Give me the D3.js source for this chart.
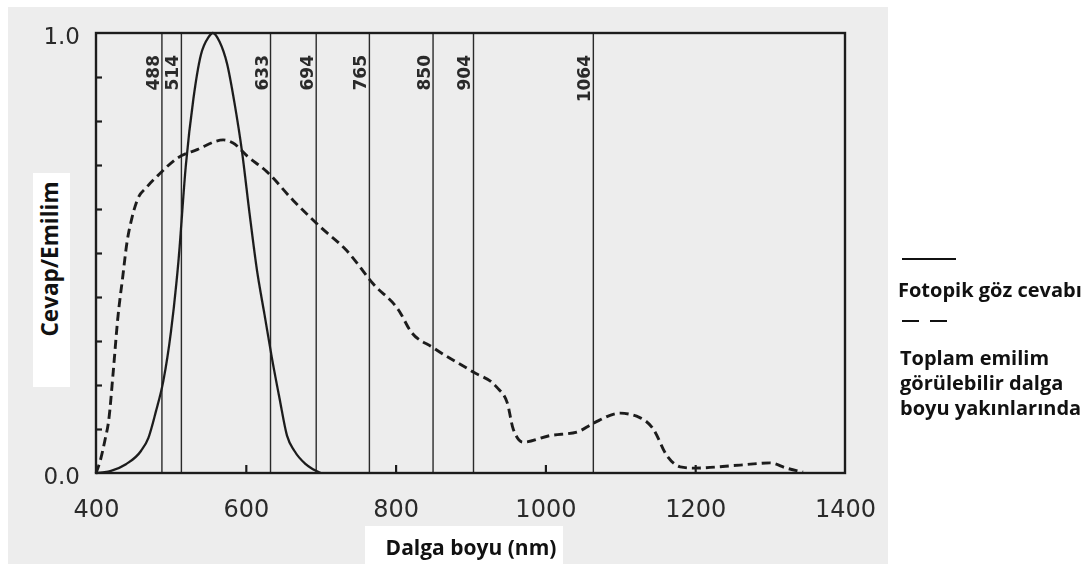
<!DOCTYPE html>
<html>
<head>
<meta charset="utf-8">
<script src="https://cdn.jsdelivr.net/npm/d3@7"></script>
<style>
  html, body { margin: 0; padding: 0; background: #ffffff; }
  svg { display: block; }
</style>
</head>
<body>
<svg id="chart" width="1090" height="564"></svg>
<script>
// Photopic eye response (solid curve)
const photopicWavelengths = [400, 420, 440, 460, 470, 480, 490, 500, 510, 520, 530, 540, 550, 556, 565, 575, 585, 595, 605, 615, 625, 635, 645, 655, 665, 680, 700];
const photopicResponse   = [0, 0.005, 0.02, 0.05, 0.08, 0.14, 0.21, 0.32, 0.48, 0.70, 0.85, 0.95, 0.99, 1.0, 0.98, 0.93, 0.84, 0.73, 0.59, 0.46, 0.36, 0.26, 0.17, 0.085, 0.05, 0.02, 0];

// Total emission near the visible range (dashed curve)
const emissionWavelengths = [400, 406, 412, 417, 423, 429, 436, 441, 448, 455, 468, 485, 508, 535, 570, 583, 602, 628, 663, 699, 735, 770, 806, 819, 850, 903, 935, 949, 957, 970, 1006, 1042, 1064, 1100, 1126, 1144, 1162, 1180, 1197, 1260, 1300, 1322, 1344];
const emissionValues      = [0, 0.03, 0.075, 0.12, 0.23, 0.35, 0.45, 0.52, 0.58, 0.62, 0.65, 0.68, 0.715, 0.735, 0.757, 0.75, 0.72, 0.685, 0.62, 0.56, 0.505, 0.43, 0.365, 0.325, 0.285, 0.23, 0.195, 0.16, 0.10, 0.07, 0.085, 0.093, 0.113, 0.136, 0.126, 0.10, 0.04, 0.014, 0.011, 0.018, 0.023, 0.011, 0.002];

// Laser wavelengths marked with vertical lines
const laserLines = [488, 514, 633, 694, 765, 850, 904, 1064];

// Axis ticks
const xTickLabels = [400, 600, 800, 1000, 1200, 1400];
const xInnerTicks = [600, 800, 1000, 1200];
const yTickLabels = [0, 1];
const yInnerTicks = [0.1, 0.2, 0.3, 0.4, 0.5, 0.6, 0.7, 0.8, 0.9];

// Text
const xTitle = "Dalga boyu (nm)";
const yTitle = "Cevap/Emilim";
const legendSolid = ["Fotopik göz cevabı"];
const legendDashed = ["Toplam emilim", "görülebilir dalga", "boyu yakınlarında"];

const svg = d3.select("#chart");
const ink = "#1f1f1f";
const figFont = "'DejaVu Sans', sans-serif";
const labelFont = "'Open Sans', sans-serif";

// Slight softening of the printed figure
const defs = svg.append("defs");
defs.append("filter").attr("id", "soft")
  .attr("x", "-5%").attr("y", "-5%").attr("width", "110%").attr("height", "110%")
  .append("feGaussianBlur").attr("stdDeviation", 0.45);

// Paper background of the figure
svg.append("rect").attr("x", 8).attr("y", 7).attr("width", 880).attr("height", 557).attr("fill", "#ededed");

const fig = svg.append("g").attr("filter", "url(#soft)");

const x = d3.scaleLinear().domain([400, 1400]).range([96, 845]);
const y = d3.scaleLinear().domain([0, 1]).range([473, 33]);

// Laser lines
fig.append("g").selectAll("line").data(laserLines).join("line")
  .attr("x1", d => x(d)).attr("x2", d => x(d))
  .attr("y1", y(1)).attr("y2", y(0))
  .attr("stroke", "#2a2a2a").attr("stroke-width", 1.4);

fig.append("g").selectAll("text").data(laserLines).join("text")
  .attr("transform", d => `translate(${x(d) - 3},55) rotate(-90)`)
  .attr("text-anchor", "end")
  .attr("font-family", figFont).attr("font-weight", "bold").attr("font-size", 17)
  .attr("fill", "#2a2a2a")
  .text(d => d);

// Frame
fig.append("rect")
  .attr("x", x(400)).attr("y", y(1))
  .attr("width", x(1400) - x(400)).attr("height", y(0) - y(1))
  .attr("fill", "none").attr("stroke", ink).attr("stroke-width", 2.4);

// Inner ticks
const xTicksG = fig.append("g").attr("transform", `translate(0,${y(0)})`)
  .call(d3.axisTop(x).tickValues(xInnerTicks).tickSize(8).tickFormat(""));
xTicksG.select(".domain").remove();
xTicksG.selectAll("line").attr("stroke", ink).attr("stroke-width", 2.2);

const yTicksG = fig.append("g").attr("transform", `translate(${x(400)},0)`)
  .call(d3.axisRight(y).tickValues(yInnerTicks).tickSize(6).tickFormat(""));
yTicksG.select(".domain").remove();
yTicksG.selectAll("line").attr("stroke", ink).attr("stroke-width", 2.2);

// Tick labels
const xLab = fig.append("g").attr("transform", `translate(0,${y(0)})`)
  .call(d3.axisBottom(x).tickValues(xTickLabels).tickSize(0).tickPadding(27).tickFormat(d3.format("d")));
xLab.select(".domain").remove();
xLab.selectAll("text").attr("font-family", figFont).attr("font-size", 24).attr("fill", "#2a2a2a");

const yLab = fig.append("g").attr("transform", `translate(${x(400) - 16},3)`)
  .call(d3.axisLeft(y).tickValues(yTickLabels).tickSize(0).tickPadding(0).tickFormat(d3.format(".1f")));
yLab.select(".domain").remove();
yLab.selectAll("text").attr("font-family", figFont).attr("font-size", 23).attr("fill", "#2a2a2a");

// Curves
const photopic = photopicWavelengths.map((w, i) => [w, photopicResponse[i]]);
const emission = emissionWavelengths.map((w, i) => [w, emissionValues[i]]);
const line = d3.line().x(d => x(d[0])).y(d => y(d[1])).curve(d3.curveMonotoneX);

fig.append("path").attr("d", line(photopic))
  .attr("fill", "none").attr("stroke", ink).attr("stroke-width", 2.3);
fig.append("path").attr("d", line(emission))
  .attr("fill", "none").attr("stroke", ink).attr("stroke-width", 2.9)
  .attr("stroke-dasharray", "9,5");

// Axis titles on white boxes
svg.append("rect").attr("x", 33).attr("y", 173).attr("width", 37).attr("height", 214).attr("fill", "#ffffff");
svg.append("text")
  .attr("transform", `translate(58,259) rotate(-90)`)
  .attr("text-anchor", "middle")
  .attr("font-family", labelFont).attr("font-weight", 700).attr("font-size", 22.5)
  .attr("fill", "#111").text(yTitle);

svg.append("rect").attr("x", 365).attr("y", 526).attr("width", 198).attr("height", 38).attr("fill", "#ffffff");
svg.append("text")
  .attr("x", 471).attr("y", 555)
  .attr("text-anchor", "middle")
  .attr("font-family", labelFont).attr("font-weight", 700).attr("font-size", 21)
  .attr("fill", "#111").text(xTitle);

// Legend
const legend = svg.append("g");
legend.append("line").attr("x1", 902).attr("x2", 956).attr("y1", 259).attr("y2", 259)
  .attr("stroke", "#111").attr("stroke-width", 2);
legend.selectAll("text.solid").data(legendSolid).join("text").attr("class", "solid")
  .attr("x", 898).attr("y", (d, i) => 297 + i * 25)
  .attr("font-family", labelFont).attr("font-weight", 700).attr("font-size", 20)
  .attr("fill", "#111").text(d => d);
legend.append("line").attr("x1", 902).attr("x2", 948).attr("y1", 321).attr("y2", 321)
  .attr("stroke", "#111").attr("stroke-width", 2).attr("stroke-dasharray", "17,11");
legend.selectAll("text.dashed").data(legendDashed).join("text").attr("class", "dashed")
  .attr("x", 900).attr("y", (d, i) => 365 + i * 25)
  .attr("font-family", labelFont).attr("font-weight", 700).attr("font-size", 20)
  .attr("fill", "#111").text(d => d);
</script>
</body>
</html>
